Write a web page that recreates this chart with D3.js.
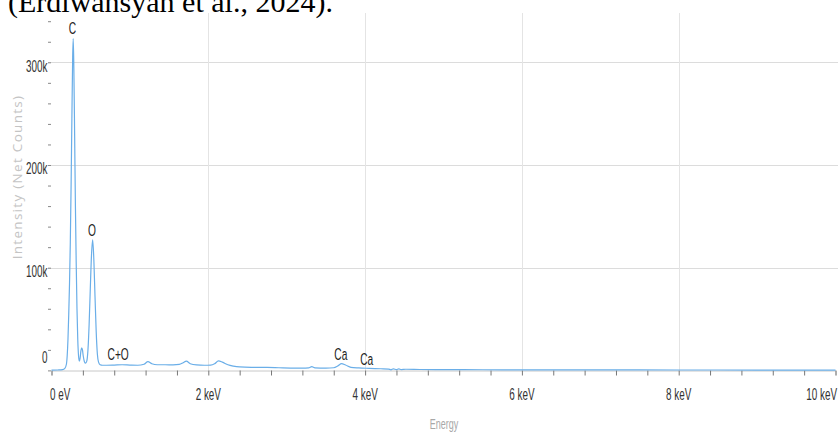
<!DOCTYPE html>
<html>
<head>
<meta charset="utf-8">
<script src="https://cdn.jsdelivr.net/npm/d3@7"></script>
<style>
  html, body { margin: 0; padding: 0; background: #fff; }
  svg { display: block; }
</style>
</head>
<body>
<script>
// ---- data ----
const energyKeV = [0.00,0.08,0.14,0.17,0.19,0.20,0.21,0.22,0.23,0.24,0.25,0.26,0.27,0.277,0.285,0.295,0.305,0.315,0.325,0.335,0.345,0.355,0.365,0.375,0.385,0.395,0.405,0.42,0.435,0.45,0.465,0.48,0.495,0.51,0.525,0.54,0.555,0.57,0.585,0.60,0.62,0.65,0.70,0.80,0.90,1.00,1.10,1.18,1.23,1.28,1.35,1.45,1.55,1.63,1.68,1.72,1.77,1.85,1.95,2.03,2.08,2.13,2.18,2.25,2.32,2.40,2.55,2.75,2.90,3.05,3.20,3.28,3.32,3.36,3.50,3.60,3.65,3.70,3.75,3.82,3.92,4.05,4.20,4.30,4.33,4.36,4.40,4.43,4.46,4.52,4.70,5.00,5.50,6.00,7.00,8.00,9.00,10.00];
const counts    = [200,400,800,2000,6000,14000,30000,55000,85000,125000,180000,245000,305000,323000,295000,230000,160000,105000,60000,30000,14000,9000,12000,19000,22000,20000,14000,8500,7000,9000,20000,45000,80000,112000,127000,108000,72000,38000,16000,8000,5500,5000,5000,5200,5500,5200,5000,6000,8500,6500,5500,5500,5400,5800,7500,9000,6500,5300,5000,5200,6500,9200,8000,5500,4200,3400,3000,2900,2600,2300,2200,2400,3600,2500,2300,2600,4200,6500,5200,3000,2400,2000,1600,1300,600,1500,700,1500,800,1100,900,800,650,550,450,400,350,300];

const xMajorTicks = [0,2,4,6,8,10];
const xTickLabels = ["0 eV","2 keV","4 keV","6 keV","8 keV","10 keV"];
const yMajorTicks = [0,100000,200000,300000];
const yTickLabels = ["0","100k","200k","300k"];
const peakNames   = ["C","O","C+O","Ca","Ca"];
const peakEnergy  = [0.268,0.517,0.85,3.69,4.02];
const peakHeight  = [327500,131000,10500,10500,5500];

// ---- layout ----
const W = 838, H = 434;
const svg = d3.select("body").append("svg").attr("width", W).attr("height", H);

const x = d3.scaleLinear().domain([0, 10]).range([51.5, 835.5]);
const y = d3.scaleLinear().domain([0, 348000]).range([370.4, 13]);

// narrow-text helper
function ntext(g, px, py, txt, size, anchor, fill, sx) {
  return g.append("g").attr("transform", `translate(${px},${py})`)
    .append("text")
    .attr("transform", `scale(${sx},1)`)
    .attr("text-anchor", anchor)
    .attr("font-family", "'Liberation Sans', Arial, sans-serif")
    .attr("font-size", size)
    .attr("fill", fill)
    .text(txt);
}

// gridlines
const grid = svg.append("g");
grid.selectAll("line.h").data(yMajorTicks.filter(d => d > 0)).join("line")
  .attr("x1", 48).attr("x2", W)
  .attr("y1", d => Math.round(y(d)) + 0.5).attr("y2", d => Math.round(y(d)) + 0.5)
  .attr("stroke", "#dcdcdc").attr("stroke-width", 1);
grid.selectAll("line.v").data(xMajorTicks.filter(d => d > 0 && d < 10)).join("line")
  .attr("x1", d => Math.round(x(d)) + 0.5).attr("x2", d => Math.round(x(d)) + 0.5)
  .attr("y1", 13).attr("y2", 370)
  .attr("stroke", "#e4e4e4").attr("stroke-width", 1);

// x axis minor ticks every 0.4 keV
const xMinor = d3.range(0, 26).map(i => +(i * 0.4).toFixed(1));
const xAxis = d3.axisBottom(x).tickValues(xMinor).tickSize(5).tickFormat("");
const gx = svg.append("g").attr("transform", "translate(0,370.5)").call(xAxis);
gx.select(".domain").attr("stroke", "#c8c8c8");
gx.selectAll(".tick line").attr("stroke", "#777");

// y axis minor ticks every 20k
const yMinor = d3.range(0, 18).map(i => i * 20000);
const yAxis = d3.axisLeft(y).tickValues(yMinor).tickSize(3).tickFormat("");
const gy = svg.append("g").attr("transform", "translate(51,0)").call(yAxis);
gy.select(".domain").remove();
gy.selectAll(".tick line").attr("stroke", "#888");

// tick labels
const lab = svg.append("g");
xMajorTicks.forEach((d, i) => {
  const last = xMajorTicks.length - 1;
  const anchor = i === 0 ? "start" : (i === last ? "end" : "middle");
  const px = i === 0 ? x(d) - 1.5 : (i === last ? x(d) + 1.5 : x(d));
  ntext(lab, px, 400, xTickLabels[i], 16.5, anchor, "#333", 0.6);
});
yMajorTicks.forEach((d, i) => {
  const py = d === 0 ? 363 : y(d) + 9.5;
  ntext(lab, 47.5, py, yTickLabels[i], 16.5, "end", "#333", 0.6);
});

// axis titles
ntext(svg, 444, 429, "Energy", 15, "middle", "#a8a8a8", 0.6);
svg.append("text")
  .attr("transform", "translate(22,177) rotate(-90)")
  .attr("text-anchor", "middle")
  .attr("font-family", "'Open Sans', 'Liberation Sans', sans-serif")
  .attr("font-size", 13.5)
  .attr("letter-spacing", 1.3)
  .attr("fill", "#c4c4c4")
  .text("Intensity (Net Counts)");

// spectrum
const pts = energyKeV.map((e, i) => [e, counts[i]]);
svg.append("path")
  .datum(pts)
  .attr("d", d3.line().x(d => x(d[0])).y(d => y(d[1])).curve(d3.curveMonotoneX))
  .attr("fill", "none")
  .attr("stroke", "#6aaee8")
  .attr("stroke-width", 1.2);

// peak labels
peakNames.forEach((n, i) => {
  ntext(svg, x(peakEnergy[i]), y(peakHeight[i]), n, 17, "middle", "#222", 0.6);
});

// top citation text (cut off by page top)
svg.append("text")
  .attr("x", 8).attr("y", 12)
  .attr("font-family", "'Liberation Serif', 'Times New Roman', serif")
  .attr("font-size", 30)
  .attr("fill", "#000")
  .text("(Erdiwansyah et al., 2024).");
</script>
</body>
</html>
